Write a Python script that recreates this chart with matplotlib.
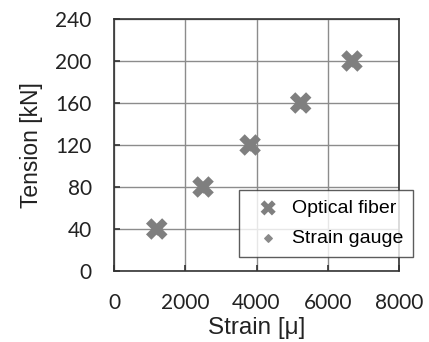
import numpy as np
import matplotlib.pyplot as plt

# data
strain_fiber = [1200, 2500, 3820, 5240, 6680]
tension_fiber = [40, 80, 120, 160, 200]
strain_gauge = [1200, 2500, 3820, 5240, 6680]
tension_gauge = [40, 80, 120, 160, 200]

x_ticks = [0, 2000, 4000, 6000, 8000]
y_ticks = [0, 40, 80, 120, 160, 200, 240]

plt.rcParams['font.family'] = ['Liberation Sans', 'DejaVu Sans']

fig = plt.figure(figsize=(4.29, 3.42), dpi=100)
ax = fig.add_axes([114 / 429, 1 - 271 / 342, 285 / 429, 252 / 342])

ax.scatter(strain_gauge, tension_gauge, marker='D', s=30, color='#8a8a8a',
           label='Strain gauge', zorder=3)
ax.scatter(strain_fiber, tension_fiber, marker='X', s=240, color='#7f7f7f',
           edgecolors='none', label='Optical fiber', zorder=4)

ax.set_xlim(0, 8000)
ax.set_ylim(0, 240)
ax.set_xticks(x_ticks)
ax.set_yticks(y_ticks)
ax.grid(True, color='#8c8c8c', linewidth=1.0)
ax.set_axisbelow(True)
for s in ax.spines.values():
    s.set_color('#333333')
    s.set_linewidth(1.2)
ax.tick_params(direction='in', length=4, width=1.2, color='#333333',
               labelsize=15, labelcolor='#222222')
ax.tick_params(axis='x', pad=16)
ax.tick_params(axis='y', pad=16)
for lab in ax.get_xticklabels() + ax.get_yticklabels():
    lab.set_family(['Lato', 'DejaVu Sans'])

ax.set_xlabel('Strain [μ]', fontsize=17.5, color='#222222', labelpad=3)
ax.set_ylabel('Tension [kN]', fontsize=16.5, color='#222222', labelpad=9)

handles, labels = ax.get_legend_handles_labels()
leg = ax.legend(handles[::-1], labels[::-1], loc='lower left',
                bbox_to_anchor=(239 / 429, 1 - 257 / 342), bbox_transform=fig.transFigure,
                fontsize=14, frameon=True, fancybox=False, edgecolor='#333333',
                borderpad=0.5, handletextpad=0.2, labelspacing=0.65,
                borderaxespad=0, scatterpoints=1, markerscale=0.7)
leg.get_frame().set_linewidth(1.0)
leg.set_zorder(5)

fig.savefig('out.png', dpi=100)
